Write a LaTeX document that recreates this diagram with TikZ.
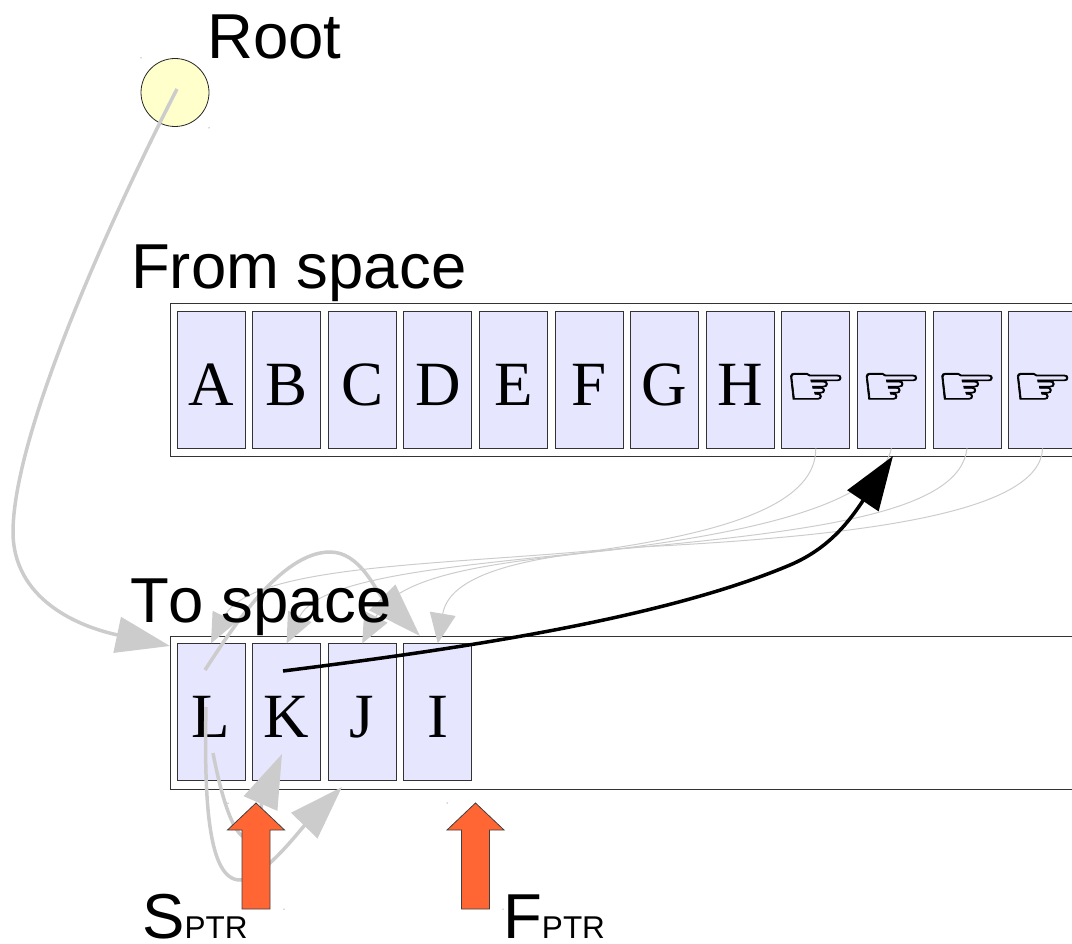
\documentclass[tikz,border=0pt]{standalone}
\usepackage{fontspec}
\setmainfont{Liberation Serif}
\setsansfont[Kerning=Off]{Liberation Sans}
\newfontfamily\handfont[FakeStretch=1.25,FakeBold=1.2]{DejaVu Sans}
\usetikzlibrary{arrows.meta}
\definecolor{cellfill}{HTML}{E6E6FF}
\definecolor{rootfill}{HTML}{FFFFCC}
\definecolor{ptrfill}{HTML}{FF6633}
\definecolor{linkgray}{HTML}{CCCCCC}
\tikzset{
 x=1pt,y=-1pt,
 space/.style={draw=black!80,line width=0.7pt,fill=white,minimum width=1000pt,minimum height=153pt,inner sep=0pt,anchor=north west},
 cell/.style={draw=black!80,line width=0.8pt,fill=cellfill,minimum width=68pt,inner sep=0pt,text height=94pt,text depth=43pt,font=\fontsize{63}{70}\selectfont},
 handcell/.style={cell,font=\handfont\fontsize{56}{70}\selectfont},
 label/.style={inner sep=0pt,anchor=base west,font=\sffamily\fontsize{63.5}{70}\selectfont},
 bigpush/.style={draw=linkgray,line width=3.5pt,-{Triangle[length=54pt,width=36pt]}},
 thin link/.style={draw=linkgray,line width=1pt,-{Triangle[length=30pt,width=26pt]}},
 blacklink/.style={draw=black,line width=3.5pt,-{Triangle[length=54pt,width=37pt]}},
 ptrarrow/.style={draw=black!75,line width=0.8pt,fill=ptrfill},
}
\begin{document}
\begin{tikzpicture}
\useasboundingbox (0,0) rectangle (1072,944);
\clip (0,0) rectangle (1072,944);
% spaces
\node[space] (from) at (170,303) {};
\node[space] (to) at (170,635.5) {};
% from-space cells
\node[cell] (a) at (211,379.5) {A};
\node[cell] (b) at (286.6,379.5) {B};
\node[cell] (c) at (362.2,379.5) {C};
\node[cell] (d) at (437.8,379.5) {D};
\node[cell] (e) at (513.4,379.5) {E};
\node[cell] (f) at (589,379.5) {F};
\node[cell] (g) at (664.6,379.5) {G};
\node[cell] (h) at (740.2,379.5) {H};
\node[handcell] (h1) at (815.8,379.5) {☞};
\node[handcell] (h2) at (891.4,379.5) {☞};
\node[handcell] (h3) at (967,379.5) {☞};
\node[handcell] (h4) at (1042.6,379.5) {☞};
% to-space cells
\node[cell] (l) at (211,712.3) {L};
\node[cell] (k) at (286.6,712.3) {K};
\node[cell] (j) at (362.2,712.3) {J};
\node[cell] (i) at (437.8,712.3) {I};
% root
\node[draw=black!85,line width=0.8pt,fill=rootfill,circle,minimum size=68pt,inner sep=0pt] (root) at (175,92.5) {};
% free ends
\coordinate (rootstart) at (177,89);
\coordinate (rootend) at (170,646);
\coordinate (lTop) at (205,670);
\coordinate (lMid) at (206,707);
\coordinate (lLow) at (213,753);
\coordinate (kStart) at (283,671);
\coordinate (kTip) at (282,754);
\coordinate (jTip) at (342,787);
\coordinate (iTip) at (420,636);
\coordinate (h2Tip) at (893,456);
% thin forwarding links
\draw[thin link] (h1.south) .. controls (816,500) and (740,530) .. (600,550) .. controls (440,565) and (250,565) .. (l.north);
\draw[thin link] (h2.south) .. controls (880,500) and (770,530) .. (610,550) .. controls (470,565) and (320,575) .. (k.north);
\draw[thin link] (h3.south) .. controls (960,510) and (830,530) .. (620,549) .. controls (510,562) and (400,570) .. (j.north);
\draw[thin link] (h4.south) .. controls (1040,510) and (880,535) .. (640,547) .. controls (540,555) and (450,570) .. (i.north);
% to-space links
\draw[bigpush] (rootstart) .. controls (130,180) and (15,420) .. (13,530) .. controls (12,600) and (80,627) .. (rootend);
\draw[bigpush] (lTop) .. controls (230,632) and (280,552) .. (330,552) .. controls (360,552) and (375,590) .. (iTip);
\draw[bigpush] (lLow) .. controls (222,800) and (235,842) .. (250,838) .. controls (262,832) and (262,800) .. (kTip);
\draw[bigpush] (lMid) .. controls (204,800) and (208,880) .. (240,880) .. controls (262,880) and (300,830) .. (jTip);
\draw[blacklink] (kStart) .. controls (450,650) and (660,620) .. (790,565) .. controls (830,548) and (850,520) .. (h2Tip);
% pointers
\coordinate (sptr) at (256,803);
\coordinate (fptr) at (475.5,803);
\foreach \p in {sptr,fptr}
  \draw[ptrarrow] (\p) -- ++(28.5,27) -- ++(-14.5,0) -- ++(0,79) -- ++(-28,0) -- ++(0,-79) -- ++(-14.5,0) -- cycle;
% labels
\node[label] (rootlabel) at (207,59) {Root};
\node[label] (fromlabel) at (131,289) {From space};
\node[label] (tolabel) at (130,622) {To space};
\node[label] (slabel) at (142,938) {S{\fontsize{31.5}{34}\selectfont PTR}};
\node[label] (flabel) at (503,938) {F{\fontsize{31.5}{34}\selectfont PTR}};
% specks
\foreach \p in {(141,58),(209,128),(228,803),(284,909),(447,803),(503,909)}
  \fill[black!70] \p circle (0.5pt);
\end{tikzpicture}
\end{document}
